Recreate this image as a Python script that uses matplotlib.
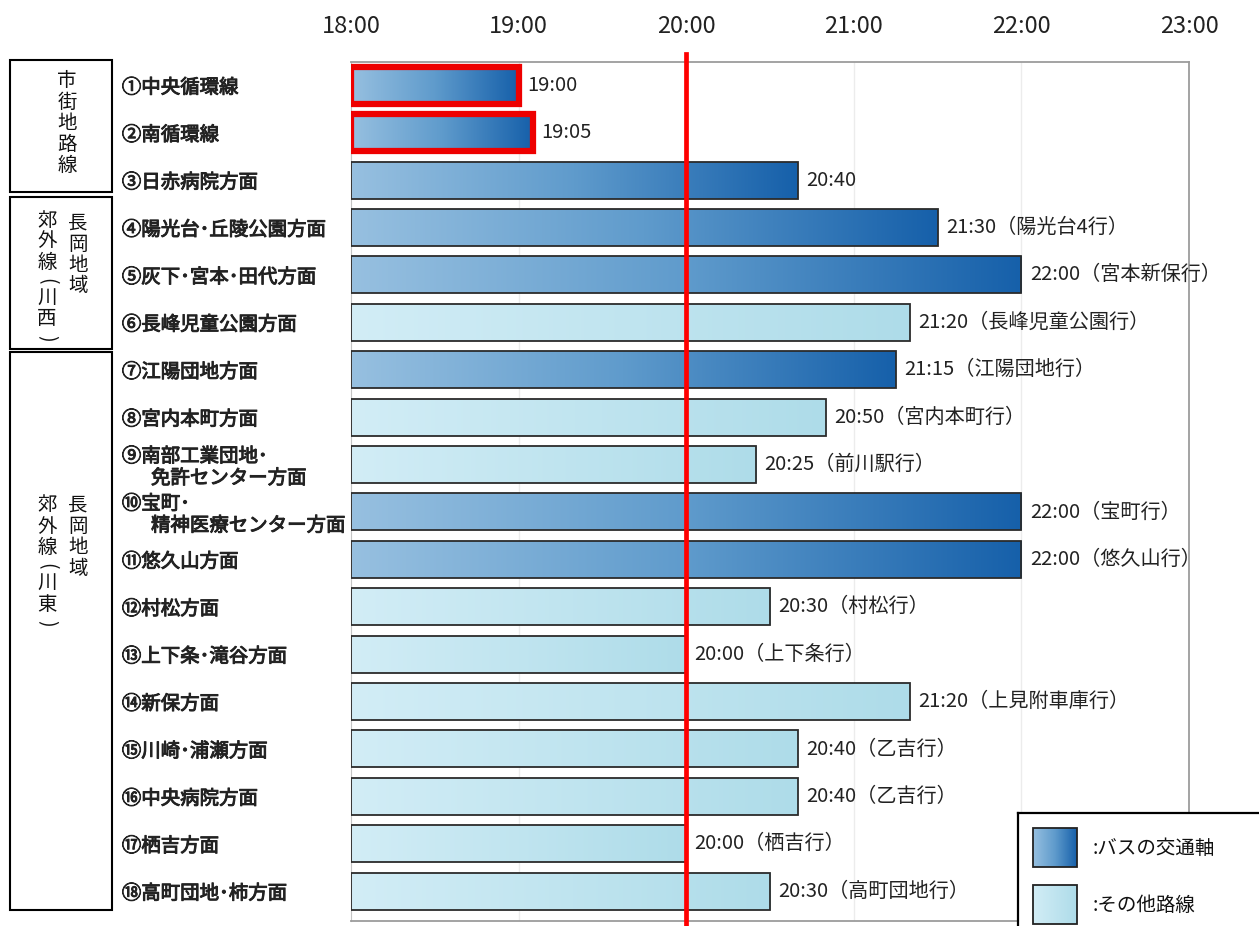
"""
Last departure times of Nagaoka bus routes (after 18:00).

Horizontal bars from 18:00 to each route's last bus, gradient-filled.
"""
import numpy as np
import matplotlib
matplotlib.use('Agg')
import matplotlib.pyplot as plt
import matplotlib.patheffects as pe
from matplotlib.colors import LinearSegmentedColormap
from matplotlib.patches import Rectangle

plt.rcParams['font.family'] = ['Noto Sans CJK JP', 'DejaVu Sans']

# --- data -------------------------------------------------------------------
routes = [
    "①中央循環線",
    "②南循環線",
    "③日赤病院方面",
    "④陽光台･丘陵公園方面",
    "⑤灰下･宮本･田代方面",
    "⑥長峰児童公園方面",
    "⑦江陽団地方面",
    "⑧宮内本町方面",
    "⑨南部工業団地･\n\u3000\u2002免許センター方面",
    "⑩宝町･\n\u3000\u2002精神医療センター方面",
    "⑪悠久山方面",
    "⑫村松方面",
    "⑬上下条･滝谷方面",
    "⑭新保方面",
    "⑮川崎･浦瀬方面",
    "⑯中央病院方面",
    "⑰栖吉方面",
    "⑱高町団地･柿方面",
]
last_bus = [
    "19:00", "19:05", "20:40", "21:30", "22:00", "21:20",
    "21:15", "20:50", "20:25", "22:00", "22:00", "20:30",
    "20:00", "21:20", "20:40", "20:40", "20:00", "20:30",
]
destinations = [
    "", "", "", "（陽光台4行）", "（宮本新保行）", "（長峰児童公園行）",
    "（江陽団地行）", "（宮内本町行）", "（前川駅行）", "（宝町行）", "（悠久山行）", "（村松行）",
    "（上下条行）", "（上見附車庫行）", "（乙吉行）", "（乙吉行）", "（栖吉行）", "（高町団地行）",
]
# True = main bus axis ("バスの交通軸"), False = other routes
is_main = [
    True, True, True, True, True, False,
    True, False, False, True, True, False,
    False, False, False, False, False, False,
]
highlighted = [0, 1]          # city loop routes outlined in red
start_hour = 18
hour_ticks = [18, 19, 20, 21, 22, 23]
hour_labels = ["18:00", "19:00", "20:00", "21:00", "22:00", "23:00"]
cutoff_hour = 20

groups = [
    # (box top px, box bottom px, columns: (x px, first char y px, text))
    (60, 192, [(67, 81, "市街地路線")]),
    (197, 349, [(78, 223, "長岡地域"), (47, 220, "郊外線(川西)")]),
    (352, 910, [(78, 505, "長岡地域"), (47, 505, "郊外線(川東)")]),
]
legend_items = [("main", ":バスの交通軸"), ("other", ":その他路線")]


def to_hours(hhmm):
    h, m = hhmm.split(':')
    return int(h) + int(m) / 60


main_cmap = LinearSegmentedColormap.from_list('main', ['#97c0e0', '#5f9bcc', '#1660aa'])
other_cmap = LinearSegmentedColormap.from_list('other', ['#d2edf6', '#aedce9'])
gradient = np.linspace(0, 1, 256).reshape(1, -1)
# slightly heavier strokes than the regular face
medium = [pe.withStroke(linewidth=0.7, foreground='#222222')]

W, H = 1259, 926
fig = plt.figure(figsize=(W / 100, H / 100), dpi=100)
ax = fig.add_axes([351 / W, 1 - 921 / H, 838 / W, 859 / H])

ends = [to_hours(t) for t in last_bus]
rows = np.arange(len(routes))
bar_h = 0.78

for i, (end, main) in enumerate(zip(ends, is_main)):
    y0, y1 = i - bar_h / 2, i + bar_h / 2
    ax.imshow(gradient, cmap=main_cmap if main else other_cmap, aspect='auto',
              extent=(start_hour, end, y1, y0), zorder=2, interpolation='bilinear')
    if i in highlighted:
        edge, lw = '#ee0000', 4.5
    else:
        edge, lw = '#2b2b2b', 1.3
    ax.add_patch(Rectangle((start_hour, y0), end - start_hour, bar_h,
                           fill=False, edgecolor=edge, linewidth=lw, zorder=3))
    ax.annotate(last_bus[i] + destinations[i], xy=(end, i), xytext=(6, 0),
                textcoords='offset points', va='center', ha='left',
                fontsize=14.5, color='#222222')

ax.set_xlim(start_hour, hour_ticks[-1])
ax.set_ylim(17.63, -0.49)

# hour axis on top
ax.xaxis.tick_top()
ax.set_xticks(hour_ticks, hour_labels, fontsize=17, color='#222222')
ax.tick_params(axis='x', length=0, pad=17)
for h in hour_ticks[1:-1]:
    ax.axvline(h, color='#ececec', linewidth=1, zorder=1)

# route names as y tick labels, left aligned
ax.set_yticks(rows, routes, fontsize=14, ha='left', color='#222222', linespacing=1.05)
for lbl in ax.get_yticklabels():
    lbl.set_path_effects(medium)
ax.tick_params(axis='y', length=0, pad=165)

for side in ['top', 'right', 'bottom']:
    ax.spines[side].set_color('#9c9c9c')
    ax.spines[side].set_linewidth(1.3)
ax.spines['left'].set_color('#c4c4c4')

# 20:00 cutoff line
ax.axvline(cutoff_hour, ymin=-0.01, ymax=1.0095, color='#ff0000', linewidth=3.4,
           clip_on=False, zorder=5)

# route group boxes with vertical captions; brackets are turned sideways
for top, bottom, columns in groups:
    fig.add_artist(Rectangle((10 / W, 1 - bottom / H), 102 / W, (bottom - top) / H,
                             transform=fig.transFigure, fill=False,
                             edgecolor='black', linewidth=1.5))
    for x, y, text in columns:
        for ch in text:
            bracket = ch in '()'
            if bracket:
                y -= 2
            fig.text(x / W, 1 - y / H, ch, ha='center', va='center',
                     fontsize=14, color='#111111', rotation=-90 if bracket else 0)
            y += 17 if bracket else 21

# legend panel in the lower right corner
lax = fig.add_axes([1018 / W, -20 / H, 260 / W, 133 / H])
lax.set_xticks([])
lax.set_yticks([])
for s in lax.spines.values():
    s.set_linewidth(1.6)
    s.set_color('black')
for k, (kind, text) in enumerate(legend_items):
    y0 = 15 + k * 57
    cmap = main_cmap if kind == "main" else other_cmap
    lax.imshow(gradient, cmap=cmap, aspect='auto', extent=(15, 59, y0 + 39, y0),
               interpolation='bilinear')
    lax.add_patch(Rectangle((15, y0), 44, 39, fill=False, edgecolor='#222222', linewidth=1.3))
    lax.text(75, y0 + 20, text, va='center', ha='left', fontsize=14, color='#111111')
lax.set_xlim(0, 260)
lax.set_ylim(133, 0)

fig.savefig('out.png', dpi=100)
